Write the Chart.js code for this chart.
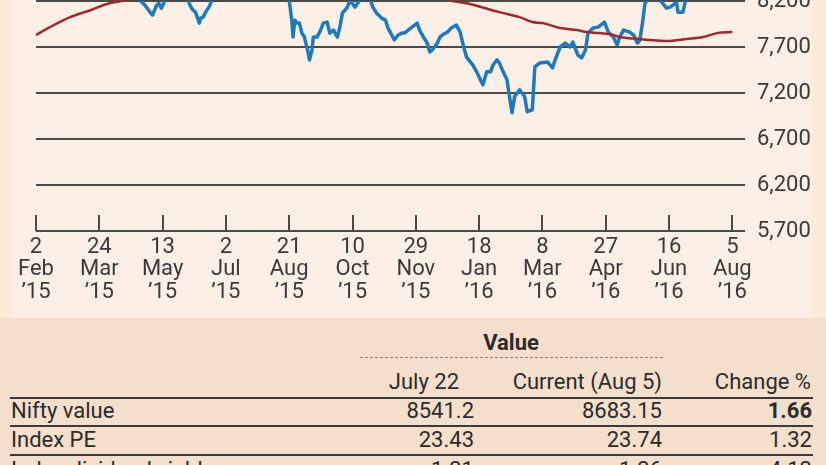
<!DOCTYPE html>
<html>
<head>
<meta charset="utf-8">
<script src="https://cdn.jsdelivr.net/npm/chart.js@4.4.0/dist/chart.umd.min.js"></script>
<style>
  body { margin: 0; }
  #wrap { position: relative; width: 826px; height: 465px; overflow: hidden; background: #fcefe5; font-family: Roboto, sans-serif; color: #2b2b2b; }
  #edgeL { position: absolute; left: 0; top: 0; width: 12px; height: 318px; background: #fdebd8; }
  #edgeR { position: absolute; right: 0; top: 0; width: 14px; height: 318px; background: #fdebd8; }
  #chartBox { position: absolute; left: 0; top: -40px; width: 826px; height: 360px; }
  #table { position: absolute; left: 0; top: 318px; width: 826px; height: 147px; background: #f3dfcb; }
  .t { position: absolute; font-size: 22px; line-height: 22px; white-space: nowrap; }
  .b { font-weight: bold; }
  .rule { position: absolute; left: 10px; width: 803px; height: 2px; background: #3a3a3a; }
</style>
</head>
<body>
<div id="wrap">
  <div id="edgeL"></div>
  <div id="edgeR"></div>
  <div id="chartBox"><canvas id="chart" width="826" height="360"></canvas></div>
  <div id="table"></div>
</div>
<script>
// x axis: days since 2 Feb 2015, one tick every 50 days
const tickDay   = ['2', '24', '13', '2', '21', '10', '29', '18', '8', '27', '16', '5'];
const tickMonth = ['Feb', 'Mar', 'May', 'Jul', 'Aug', 'Oct', 'Nov', 'Jan', 'Mar', 'Apr', 'Jun', 'Aug'];
const tickYear  = ['\u201915', '\u201915', '\u201915', '\u201915', '\u201915', '\u201915', '\u201915', '\u201916', '\u201916', '\u201916', '\u201916', '\u201916'];
const yTicks = [5700, 6200, 6700, 7200, 7700, 8200];

// Nifty close (blue)
const niftyDays = [0, 5, 8, 12, 16, 21, 25, 30, 33, 38, 42, 47, 50, 53, 55, 60, 63, 67, 72, 76, 79,
  82, 86, 90, 92, 95, 97, 99, 102, 104, 108, 112, 116, 119,
  120, 122, 124, 126, 129, 130, 132, 134, 137, 139,
  142, 147, 152, 157, 162, 167, 172, 176, 181, 186, 191, 195, 198,
  200, 202, 203, 204.5, 206, 208, 210, 212, 215, 216, 218, 219, 222, 224, 227, 230, 232, 235, 238, 240, 242, 246, 248,
  252, 254, 256, 259, 262, 264,
  266, 269, 273, 276, 278, 281, 283, 286, 289, 291, 294, 297, 301, 303, 306, 309, 311, 313, 317, 319, 321, 325, 328,
  332, 335, 337, 340, 343, 345, 348, 351, 353, 356, 359, 361, 364, 366, 369, 372, 374, 376, 378, 382, 386, 388, 392,
  394, 398, 404, 408, 410, 414, 418, 422, 424, 428, 431, 434, 436, 440, 444, 448, 449, 452, 456, 459, 461, 464, 469,
  472, 475, 477, 479, 481, 483, 487, 491, 495, 498, 501, 506, 507, 511, 513,
  516, 522, 528, 535, 541, 545, 550];
const niftyValues = [8800, 8750, 8530, 8700, 8800, 8850, 8830, 8950, 8930, 8720, 8680, 8600, 8530, 8370, 8340, 8500, 8660, 8780, 8750, 8500, 8300,
  8209, 8155, 8080, 8046, 8144, 8176, 8122, 8209, 8260, 8380, 8420, 8440, 8300,
  8209, 8144, 8100, 8079, 7960, 8014, 8025, 8079, 8144, 8209,
  8300, 8360, 8370, 8450, 8500, 8380, 8550, 8620, 8550, 8520, 8590, 8480, 8300,
  8209, 7992, 7808, 7992, 7960, 7960, 7851, 7808, 7635, 7559, 7668, 7808, 7808, 7862, 7960, 7971, 7851, 7884, 7808, 7916, 8068, 8133, 8209,
  8133, 8176, 8209, 8270, 8280, 8220,
  8133, 8068, 8014, 7992, 7906, 7830, 7776, 7830, 7851, 7851, 7884, 7916, 7960, 7884, 7808, 7743, 7646, 7668, 7743, 7808, 7830, 7862, 7906,
  7938, 7862, 7743, 7592, 7538, 7505, 7430, 7343, 7289, 7430, 7430, 7505, 7559, 7527, 7430, 7343, 7159, 6986, 7159, 7235, 7159, 6997, 7018,
  7484, 7527, 7538, 7473, 7559, 7700, 7743, 7700, 7754, 7613, 7581, 7668, 7851, 7906, 7916, 7960, 7971, 7862, 7808, 7722, 7808, 7884, 7862,
  7830, 7743, 7776, 7960, 8176, 8209, 8250, 8230, 8176, 8122, 8133, 8187, 8079, 8079, 8209,
  8290, 8330, 8520, 8560, 8640, 8590, 8683];

// moving average (red)
const dmaDays   = [0, 11, 27, 43, 58, 72, 90, 120, 160, 200, 240, 280, 310, 325, 340, 366, 382, 392, 400, 414, 427, 435, 445, 456, 461, 477, 485, 498, 514, 527, 538, 550];
const dmaValues = [7830, 7916, 8025, 8100, 8176, 8209, 8260, 8330, 8400, 8430, 8400, 8330, 8250, 8209, 8176, 8079, 8025, 7971, 7960, 7906, 7884, 7862, 7851, 7830, 7808, 7787, 7776, 7765, 7787, 7808, 7851, 7862];

// table
const rowLabels = ['Nifty value', 'Index PE', 'Index dividend yield'];
const july22    = ['8541.2', '23.43', '1.31'];
const current   = ['8683.15', '23.74', '1.36'];
const changePct = ['1.66', '1.32', '4.13'];

const gridColor = '#4a4a46';
const textColor = '#3a3a3a';

const upTicks = {
  id: 'upTicks',
  afterDraw(chart) {
    const xs = chart.scales.x, ctx = chart.ctx, b = chart.chartArea.bottom;
    ctx.save();
    ctx.strokeStyle = gridColor;
    ctx.lineWidth = 2;
    xs.ticks.forEach(t => {
      const px = Math.round(xs.getPixelForValue(t.value));
      ctx.beginPath();
      ctx.moveTo(px, b);
      ctx.lineTo(px, b - 16);
      ctx.stroke();
    });
    ctx.restore();
  }
};

new Chart(document.getElementById('chart'), {
  type: 'line',
  data: {
    datasets: [
      {
        label: 'Moving average',
        data: dmaDays.map((d, i) => ({ x: d, y: dmaValues[i] })),
        borderColor: '#a3282c',
        borderWidth: 2.5,
        pointRadius: 0,
        cubicInterpolationMode: 'monotone'
      },
      {
        label: 'Nifty',
        data: niftyDays.map((d, i) => ({ x: d, y: niftyValues[i] })),
        borderColor: '#1b7bc0',
        borderWidth: 3.5,
        pointRadius: 0,
        tension: 0,
        borderJoinStyle: 'round'
      }
    ]
  },
  options: {
    responsive: false,
    animation: false,
    devicePixelRatio: 1,
    layout: { padding: { top: 41, left: 36, right: 0, bottom: 4 } },
    plugins: { legend: { display: false }, tooltip: { enabled: false } },
    scales: {
      x: {
        type: 'linear',
        min: 0,
        max: 560,
        grid: { display: false, drawTicks: false },
        border: { display: false },
        afterBuildTicks: s => { s.ticks = tickDay.map((_, i) => ({ value: i * 50 })); },
        afterFit: s => { s.height = 85; },
        ticks: {
          autoSkip: false,
          maxRotation: 0,
          padding: 5,
          color: textColor,
          font: { family: 'Roboto', size: 22, lineHeight: 1.03 },
          callback: v => {
            const i = Math.round(v / 50);
            return [tickDay[i], tickMonth[i], tickYear[i]];
          }
        }
      },
      y: {
        position: 'right',
        min: 5700,
        max: 8200,
        grid: { color: gridColor, lineWidth: 2, drawTicks: false },
        border: { display: false },
        afterBuildTicks: s => { s.ticks = yTicks.map(v => ({ value: v })); },
        afterFit: s => { s.width = 81; },
        ticks: {
          padding: 12,
          color: textColor,
          font: { family: 'Roboto', size: 22 },
          callback: v => v.toLocaleString('en-US')
        }
      }
    }
  },
  plugins: [upTicks]
});

// table below the chart (coordinates relative to #table, top = 318)
const tbl = document.getElementById('table');
function txt(s, cy, opts) {
  const d = document.createElement('div');
  d.className = 't' + (opts.bold ? ' b' : '');
  d.textContent = s;
  d.style.top = (cy - 318 - 11) + 'px';
  if (opts.left !== undefined) d.style.left = opts.left + 'px';
  if (opts.right !== undefined) d.style.right = (826 - opts.right) + 'px';
  if (opts.center !== undefined) { d.style.left = opts.center + 'px'; d.style.transform = 'translateX(-50%)'; }
  tbl.appendChild(d);
}
function rule(y) {
  const r = document.createElement('div');
  r.className = 'rule';
  r.style.top = (y - 318 - 1) + 'px';
  tbl.appendChild(r);
}
txt('Value', 343, { center: 511, bold: true });
const dots = document.createElement('div');
dots.style.cssText = 'position:absolute;left:360px;width:303px;top:39px;border-top:1px dashed #8a8078;';
tbl.appendChild(dots);
txt('July 22', 382, { right: 459 });
txt('Current (Aug 5)', 382, { right: 662 });
txt('Change %', 382, { right: 811 });
rule(398);
const rowY = [411, 440, 470];
rowLabels.forEach((lab, i) => {
  txt(lab, rowY[i], { left: 11 });
  txt(july22[i], rowY[i], { right: 474 });
  txt(current[i], rowY[i], { right: 662 });
  txt(changePct[i], rowY[i], { right: 812, bold: i === 0 });
  if (i < 2) rule(rowY[i] + 15);
});
</script>
</body>
</html>
